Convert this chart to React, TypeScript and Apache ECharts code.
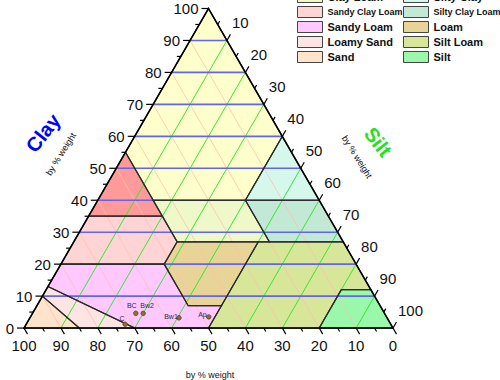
import React, { useEffect, useRef } from "react";
import * as echarts from "echarts";

// ---------- data ----------
const AXIS_TICKS = [0, 10, 20, 30, 40, 50, 60, 70, 80, 90, 100];
const MINOR_TICKS = [5, 15, 25, 35, 45, 55, 65, 75, 85, 95];
const GRID_VALUES = [10, 20, 30, 40, 50, 60, 70, 80, 90];

// soil classes: polygons as [sand, clay] pairs (silt = 100 - sand - clay)
const CLASS_NAMES = [
  "Clay", "Sandy Clay", "Silty Clay", "Clay Loam", "Silty Clay Loam", "Sandy Clay Loam",
  "Loam", "Silt Loam", "Silt", "Sandy Loam", "Loamy Sand", "Sand",
];
const CLAY_POLY = [[0, 100], [0, 60], [20, 40], [45, 40], [45, 55]];
const SANDY_CLAY_POLY = [[45, 55], [65, 35], [45, 35]];
const SILTY_CLAY_POLY = [[0, 60], [0, 40], [20, 40]];
const CLAY_LOAM_POLY = [[45, 40], [20, 40], [20, 27], [45, 27]];
const SILTY_CLAY_LOAM_POLY = [[20, 40], [0, 40], [0, 27], [20, 27]];
const SANDY_CLAY_LOAM_POLY = [[45, 35], [65, 35], [80, 20], [52, 20], [45, 27]];
const LOAM_POLY = [[45, 27], [52, 20], [52, 7], [43, 7], [23, 27]];
const SILT_LOAM_POLY = [[23, 27], [43, 7], [50, 0], [20, 0], [8, 12], [0, 12], [0, 27]];
const SILT_POLY = [[20, 0], [0, 0], [0, 12], [8, 12]];
const SANDY_LOAM_POLY = [[80, 20], [52, 20], [52, 7], [43, 7], [50, 0], [70, 0], [87, 13]];
const LOAMY_SAND_POLY = [[87, 13], [70, 0], [85, 0], [90, 10]];
const SAND_POLY = [[90, 10], [85, 0], [100, 0]];
const CLASS_POLYS = [
  CLAY_POLY, SANDY_CLAY_POLY, SILTY_CLAY_POLY, CLAY_LOAM_POLY, SILTY_CLAY_LOAM_POLY,
  SANDY_CLAY_LOAM_POLY, LOAM_POLY, SILT_LOAM_POLY, SILT_POLY, SANDY_LOAM_POLY,
  LOAMY_SAND_POLY, SAND_POLY,
];
const LEGEND_COL1 = ["Clay", "Clay Loam", "Sandy Clay Loam", "Sandy Loam", "Loamy Sand", "Sand"];
const LEGEND_COL2 = ["Sandy Clay", "Silty Clay", "Silty Clay Loam", "Loam", "Silt Loam", "Silt"];

// samples
const SAMPLE_NAMES = ["C", "BC", "Bw2", "Bw1", "Ap"];
const SAMPLE_SAND = [72, 67.4, 65.4, 56.4, 48.1];
const SAMPLE_CLAY = [1.2, 4.6, 4.6, 3.2, 3.85];

// ---------- styles ----------
const CLASS_COLORS: Record<string, string> = {
  "Clay": "#FFFFCC",
  "Sandy Clay": "#FF9A9A",
  "Silty Clay": "#D6F8EC",
  "Clay Loam": "#EEF8C8",
  "Silty Clay Loam": "#C2E8D6",
  "Sandy Clay Loam": "#FFD4D4",
  "Loam": "#E8D496",
  "Silt Loam": "#D8E69A",
  "Silt": "#9AF8AA",
  "Sandy Loam": "#FFC8FF",
  "Loamy Sand": "#FFE4E4",
  "Sand": "#FFE4CC",
};
const SAMPLE_LABEL_OFFSETS: Record<string, number[]> = {
  C: [-3, -6], BC: [-4, -8], Bw2: [4, -8], Bw1: [-8, -1], Ap: [-6, -1],
};

const H = Math.sqrt(3) / 2;
const tern = (sand: number, clay: number) => [100 - sand - clay / 2, clay * H];
const FONT = "'Liberation Sans', Arial, sans-serif";

export default function App() {
  const ref = useRef<HTMLDivElement>(null);
  useEffect(() => {
    if (!ref.current) return;
    const chart = echarts.init(ref.current, null, { renderer: "svg" });

    const regionSeries = CLASS_NAMES.map((name, i) => ({
      type: "custom",
      name,
      z: 1,
      itemStyle: { color: CLASS_COLORS[name], borderColor: "#444", borderWidth: 1 },
      data: [[0, 0]],
      renderItem: (_p: any, api: any) => ({
        type: "polygon",
        shape: { points: CLASS_POLYS[i].map(([s, c]) => api.coord(tern(s, c))) },
        style: { fill: CLASS_COLORS[name] },
      }),
    }));

    const gridSeries = (kind: "sand" | "silt" | "clay", color: string, width: number, z: number) => ({
      type: "custom",
      z,
      silent: true,
      data: GRID_VALUES.map((v) => [v, 0]),
      renderItem: (_p: any, api: any) => {
        const v = api.value(0);
        let a: number[], b: number[];
        if (kind === "clay") { a = tern(100 - v, v); b = tern(0, v); }
        else if (kind === "silt") { a = tern(100 - v, 0); b = tern(0, 100 - v); }
        else { a = tern(v, 0); b = tern(v, 100 - v); }
        const pa = api.coord(a), pb = api.coord(b);
        return {
          type: "line",
          shape: { x1: pa[0], y1: pa[1], x2: pb[0], y2: pb[1] },
          style: { stroke: color, lineWidth: width },
        };
      },
    });

    const borderSeries = {
      type: "custom",
      z: 5,
      silent: true,
      data: CLASS_POLYS.map((_, i) => [i, 0]),
      renderItem: (_p: any, api: any) => {
        const poly = CLASS_POLYS[api.value(0)];
        return {
          type: "polygon",
          shape: { points: poly.map(([s, c]) => api.coord(tern(s, c))) },
          style: { fill: "none", stroke: "#2a2a2a", lineWidth: 1.2 },
        };
      },
    };

    const outlineSeries = {
      type: "custom",
      z: 6,
      silent: true,
      data: [[0, 0]],
      renderItem: (_p: any, api: any) => ({
        type: "polygon",
        shape: { points: [tern(100, 0), tern(0, 0), tern(0, 100)].map((p) => api.coord(p)) },
        style: { fill: "none", stroke: "#000", lineWidth: 1.5 },
      }),
    };

    const tickSeries = (kind: "sand" | "silt" | "clay", values: number[], major: boolean) => ({
      type: "custom",
      z: 6,
      silent: true,
      data: values.map((v) => [v, 0]),
      renderItem: (_p: any, api: any) => {
        const v = api.value(0);
        let base: number[], dir: number[], lab: number[], align: string, text = String(v);
        if (kind === "clay") {
          base = api.coord(tern(100 - v, v)); dir = [-1, 0]; lab = [-10, 0]; align = "right";
        } else if (kind === "silt") {
          base = api.coord(tern(0, 100 - v)); dir = [0.5, -H]; lab = [5, -18]; align = "left";
        } else {
          base = api.coord(tern(v, 0)); dir = [0.5, H]; lab = [0, 17]; align = "center";
        }
        const len = major ? 7 : 4;
        const children: any[] = [
          {
            type: "line",
            shape: { x1: base[0], y1: base[1], x2: base[0] + dir[0] * len, y2: base[1] + dir[1] * len },
            style: { stroke: "#000", lineWidth: 1.2 },
          },
        ];
        if (major) {
          children.push({
            type: "text",
            x: base[0] + lab[0],
            y: base[1] + lab[1],
            style: { text, fontSize: 15, fontFamily: FONT, fill: "#111", align, verticalAlign: "middle" },
          });
        }
        return { type: "group", children };
      },
    });

    const sampleSeries = {
      type: "custom",
      z: 7,
      silent: true,
      data: SAMPLE_NAMES.map((_, i) => [i, 0]),
      renderItem: (_p: any, api: any) => {
        const i = api.value(0);
        const name = SAMPLE_NAMES[i];
        const p = api.coord(tern(SAMPLE_SAND[i], SAMPLE_CLAY[i]));
        const off = SAMPLE_LABEL_OFFSETS[name];
        return {
          type: "group",
          children: [
            { type: "circle", shape: { cx: p[0], cy: p[1], r: 2.3 }, style: { fill: "#9a6a34", stroke: "#4a3010", lineWidth: 0.6 } },
            {
              type: "text", x: p[0] + off[0], y: p[1] + off[1],
              style: { text: name, fontSize: 7, fontFamily: FONT, fill: "#2a2a55", align: "center", verticalAlign: "middle" },
            },
          ],
        };
      },
    };

    const legendText = {
      fontSize: 11, fontWeight: "bold", fontFamily: FONT, color: "#111", lineHeight: 11,
      rich: {
        n: { fontSize: 9, fontWeight: "bold", fontFamily: FONT, color: "#111", lineHeight: 11 },
      },
    };
    const legendFmt = (name: string) => (name === "Sandy Clay Loam" || name === "Silty Clay Loam" ? `{n|${name}}` : name);
    const legendData = (names: string[]) =>
      names.map((n) => ({ name: n, itemStyle: { color: CLASS_COLORS[n], borderColor: "#444", borderWidth: 1 } }));

    const option: any = {
      animation: false,
      grid: { left: 24, top: 8.5, width: 369, height: 369 * H },
      xAxis: { type: "value", min: 0, max: 100, show: false },
      yAxis: { type: "value", min: 0, max: 100 * H, show: false },
      legend: [
        {
          left: 297, top: -24, orient: "vertical", padding: 0, itemWidth: 25, itemHeight: 11, itemGap: 3,
          icon: "rect", selectedMode: false, data: legendData(LEGEND_COL1), textStyle: legendText, formatter: legendFmt,
        },
        {
          left: 403, top: -24, orient: "vertical", padding: 0, itemWidth: 25, itemHeight: 11, itemGap: 3,
          icon: "rect", selectedMode: false, data: legendData(LEGEND_COL2), textStyle: legendText, formatter: legendFmt,
        },
      ],
      graphic: [
        { type: "text", x: 43, y: 133, rotation: (52 * Math.PI) / 180,
          style: { text: "Clay", fontSize: 20, fontWeight: "bold", fontFamily: FONT, fill: "#0000FF", align: "center", verticalAlign: "middle" } },
        { type: "text", x: 61, y: 154, rotation: (58 * Math.PI) / 180,
          style: { text: "by % weight", fontSize: 9, fontFamily: FONT, fill: "#111", align: "center", verticalAlign: "middle" } },
        { type: "text", x: 378, y: 142, rotation: (-52 * Math.PI) / 180,
          style: { text: "Silt", fontSize: 20, fontWeight: "bold", fontFamily: FONT, fill: "#22E022", align: "center", verticalAlign: "middle" } },
        { type: "text", x: 357, y: 157, rotation: (-58 * Math.PI) / 180,
          style: { text: "by % weight", fontSize: 9, fontFamily: FONT, fill: "#111", align: "center", verticalAlign: "middle" } },
        { type: "text", x: 210, y: 375,
          style: { text: "by % weight", fontSize: 9, fontFamily: FONT, fill: "#111", align: "center", verticalAlign: "middle" } },
      ],
      series: [
        ...regionSeries,
        gridSeries("sand", "rgba(255,190,175,0.75)", 1, 2),
        gridSeries("silt", "#33E833", 1, 3),
        gridSeries("clay", "#6464E6", 1.6, 4),
        borderSeries,
        outlineSeries,
        tickSeries("clay", AXIS_TICKS, true),
        tickSeries("silt", AXIS_TICKS.filter((v) => v > 0), true),
        tickSeries("sand", AXIS_TICKS, true),
        tickSeries("clay", MINOR_TICKS, false),
        tickSeries("silt", MINOR_TICKS, false),
        tickSeries("sand", MINOR_TICKS, false),
        sampleSeries,
      ],
    };
    chart.setOption(option);
    return () => chart.dispose();
  }, []);
  return <div ref={ref} style={{ position: "fixed", left: 0, top: 0, width: 500, height: 380, background: "#fff" }} />;
}
